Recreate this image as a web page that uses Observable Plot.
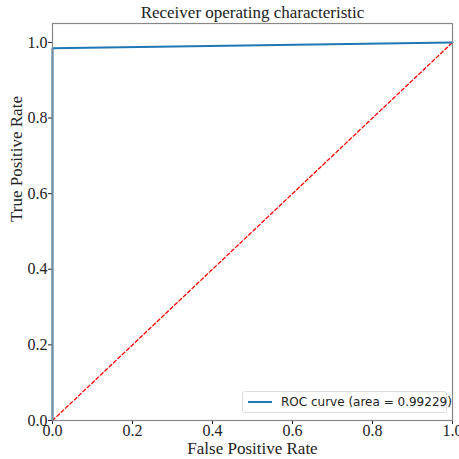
<!DOCTYPE html>
<html><head><meta charset="utf-8">
<script src="https://cdn.jsdelivr.net/npm/d3@7"></script>
<script src="https://cdn.jsdelivr.net/npm/@observablehq/plot@0.6"></script>
<style>
body{margin:0;background:#fff;}
#wrap{position:relative;width:459px;height:459px;}
#legend{position:absolute;left:242px;top:391px;width:205px;height:22px;border:1px solid #ddd;border-radius:3px;background:#fff;font-family:"DejaVu Sans",sans-serif;font-size:12px;color:#222;display:flex;align-items:center;box-sizing:border-box;white-space:nowrap;}
#legend .sw{width:24px;height:0;border-top:2px solid #1f77b4;margin:0 9px 0 5px;flex:none;}
#chart text{font-family:"Liberation Serif",serif !important;}
</style></head>
<body><div id="wrap"><div id="legend"><span class="sw"></span><span id="legtext"></span></div></div>
<script>
const title = "Receiver operating characteristic";
const xLabel = "False Positive Rate";
const yLabel = "True Positive Rate";
const fpr = [0, 0, 1];
const tpr = [0, 0.98458, 1];
const diagX = [0, 1];
const diagY = [0, 1];
const rocArea = "0.99229";
const ticks = [0, 0.2, 0.4, 0.6, 0.8, 1.0];

const roc = fpr.map((x, i) => ({x, y: tpr[i]}));
const diag = diagX.map((x, i) => ({x, y: diagY[i]}));
document.getElementById("legtext").textContent = `ROC curve (area = ${rocArea})`;

const serif = "Liberation Serif";
const chart = Plot.plot({
  width: 459, height: 459,
  marginTop: 23, marginLeft: 52, marginRight: 7, marginBottom: 39,
  style: {fontFamily: serif, fontSize: "16px", color: "#222", background: "#fff"},
  x: {domain: [0, 1], label: null},
  y: {domain: [0, 1.05], label: null},
  marks: [
    Plot.axisX({ticks, tickFormat: d3.format(".1f"), tickSize: 4, tickPadding: 0, fontSize: 16, fontFamily: serif, label: null}),
    Plot.axisY({ticks, tickFormat: d3.format(".1f"), tickSize: 4, tickPadding: 1, fontSize: 16, fontFamily: serif, label: null}),
    Plot.line(diag, {x: "x", y: "y", stroke: "red", strokeWidth: 1.3, strokeDasharray: "3.5,2.5"}),
    Plot.line(roc, {x: "x", y: "y", stroke: "#1f77b4", strokeWidth: 2}),
    Plot.frame({stroke: "#888", strokeWidth: 1.2}),
    Plot.text([title], {frameAnchor: "top", lineAnchor: "middle", dy: -11, fontSize: 17, fontFamily: serif, fill: "#222"}),
    Plot.text([xLabel], {frameAnchor: "bottom", lineAnchor: "middle", dy: 28, fontSize: 17, fontFamily: serif, fill: "#222"}),
    Plot.text([yLabel], {frameAnchor: "left", dx: -36, rotate: -90, fontSize: 17, fontFamily: serif, fill: "#222"})
  ]
});
chart.id = "chart";
d3.select(chart).selectAll("text").attr("font-family", serif).style("font-family", serif);
document.getElementById("wrap").prepend(chart);
chart.style.position = "absolute"; chart.style.left = "0"; chart.style.top = "0";
</script></body></html>
